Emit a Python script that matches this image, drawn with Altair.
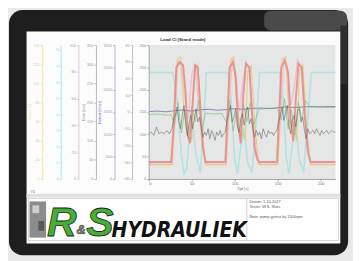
import altair as alt
import pandas as pd

# ---------------- data ----------------
x_ticks = [0, 50, 100, 150, 200]

red_t = [0, 26, 29, 32, 36, 40, 43, 45, 48, 51, 54, 57, 60, 63, 66, 89, 91, 94, 98, 101, 104, 107, 110,
         113, 117, 120, 123, 126, 128, 149, 151, 154, 158, 162, 165, 168, 171, 174, 178, 181, 185, 188, 217]
red_v = [38, 38, 120, 250, 262, 255, 190, 100, 80, 170, 255, 250, 160, 70, 38, 38, 120, 250, 262, 230, 120,
         80, 190, 258, 250, 150, 70, 45, 38, 38, 120, 250, 265, 240, 130, 85, 180, 258, 250, 150, 60, 38, 38]
red_ticks = [0, 50, 100, 150, 200, 250, 300]

pink_t = [0, 27, 30, 34, 38, 42, 46, 50, 54, 58, 62, 67, 90, 93, 97, 101, 105, 109, 113, 117, 121, 125, 129,
          150, 153, 157, 161, 165, 169, 173, 177, 181, 185, 189, 217]
pink_v = [11, 11, 40, 88, 84, 60, 45, 78, 86, 55, 25, 11, 11, 45, 90, 80, 50, 70, 88, 82, 45, 20, 11,
          11, 42, 90, 84, 55, 68, 89, 84, 50, 22, 11, 11]
pink_ticks = [0, 20, 40, 60, 80, 100]

cyan_t = [0, 28, 33, 38, 41, 44, 47, 51, 55, 60, 64, 67, 92, 96, 100, 103, 107, 111, 115, 120, 125, 129,
          152, 156, 160, 163, 167, 171, 175, 180, 185, 189, 217]
cyan_v = [6.6, 6.6, 5.0, 1.5, 0.3, 0.6, 2.5, 3.5, 1.5, 0.4, 3.5, 6.6, 6.6, 4.8, 1.2, 0.3, 2.0, 3.2, 1.0, 0.4,
          3.6, 6.6, 6.6, 5.0, 1.3, 0.3, 2.2, 3.4, 1.2, 0.4, 3.8, 6.6, 6.6]
cyan_ticks = [0, 1, 2, 3, 4, 5, 6, 7, 8]

yellow_t = [0, 27, 30, 33, 37, 41, 50, 53, 57, 62, 66, 90, 92, 95, 99, 103, 112, 115, 119, 124, 128,
            150, 152, 155, 159, 163, 172, 175, 179, 184, 188, 217]
yellow_v = [15, 15, 60, 125, 128, 70, 40, 110, 120, 50, 15, 15, 60, 125, 128, 70, 40, 112, 118, 50, 15,
            15, 60, 126, 128, 70, 40, 112, 120, 50, 15, 15]
yellow_ticks = [0, 20, 40, 60, 80, 100, 120, 140]

black_t = [0, 3, 6, 9, 12, 15, 18, 21, 24, 27, 29, 31, 33, 35, 37, 39, 41, 43, 45, 47, 49, 51, 53, 55, 57,
           59, 61, 63, 65, 67, 69, 71, 73, 75, 77, 79, 81, 83, 85, 87, 89, 91, 93, 95, 97, 99, 101, 103,
           105, 107, 109, 111, 113, 115, 117, 119, 121, 123, 125, 127, 129, 131, 133, 135, 137, 139, 141,
           143, 145, 147, 149, 151, 153, 155, 157, 159, 161, 163, 165, 167, 169, 171, 173, 175, 177, 179,
           181, 183, 185, 187, 189, 191, 193, 195, 197, 199, 201, 203, 205, 207, 209, 211, 213, 215, 217]
black_v = [-13, -12, -14, -9, -13, -12, -13, -11, -13, -10, -4, -2, 3, -6, -10, -2, 4, -8, -14, -6, -2,
           -10, -4, 2, -6, -3, -9, -15, -12, -14, -10, -16, -11, -13, -17, -12, -14, -11, -15, -13, -12,
           -5, -1, 4, -6, -3, 2, -9, -12, -4, -1, -8, 0, 3, -7, -4, -10, -15, -11, -14, -12, -16, -10,
           -13, -15, -11, -13, -12, -14, -12, -11, -6, -2, 3, -5, -1, 4, -8, -13, -5, -2, -9, 1, 2, -6,
           -3, -11, -16, -10, -13, -12, -11, -13, -10, -12, -14, -11, -13, -12, -11, -13, -12, -11, -12, -12]
black_ticks = [-40, -30, -20, -10, 0, 10, 20, 30, 40]

blue_t = [0, 10, 20, 30, 40, 50, 60, 70, 80, 90, 100, 110, 120, 130, 140, 150, 160, 170, 180, 190, 200, 210, 217]
blue_v = [1510, 1520, 1505, 1530, 1545, 1520, 1550, 1560, 1540, 1555, 1575, 1560, 1580, 1590, 1575, 1600,
          1615, 1600, 1615, 1620, 1610, 1625, 1620]
blue_ticks = [0, 500, 1000, 1500, 2000, 2500, 3000]

green_t = [0, 10, 20, 26, 30, 34, 38, 42, 46, 50, 54, 58, 62, 66, 75, 85, 90, 94, 98, 102, 106, 110, 114,
           118, 122, 128, 140, 150, 154, 158, 162, 166, 170, 174, 178, 182, 188, 200, 210, 217]
green_v = [168, 170, 167, 168, 140, 200, 120, 180, 105, 190, 150, 205, 130, 172, 170, 171, 150, 205, 125,
           175, 110, 195, 150, 200, 140, 182, 185, 184, 155, 210, 130, 180, 115, 200, 155, 205, 188, 190, 186, 188]
green_ticks = [0, 50, 100, 150, 200, 250, 300, 350]

# ---------------- helpers ----------------
FONT = "Liberation Sans"
one = alt.Data(values=[{"k": 0}])
xs = alt.Scale(domain=[0, 217], nice=False, zero=False)
xaxis = alt.Axis(values=x_ticks, title="Tijd [s]", zindex=1, grid=False, labelFontSize=4, labelFont=FONT,
                 titleFontSize=4, titleFont=FONT, titleFontWeight="normal", titlePadding=1, tickSize=2,
                 labelPadding=1, domainColor="#a0a0a0", tickColor="#a0a0a0", labelColor="#777777",
                 titleColor="#777777")


def series(t, v, color, width, domain, ticks, offset, axcol, labcol, title="", titlecol="#888888", opacity=1.0):
    df = pd.DataFrame({"t": t, "v": v})
    yaxis = alt.Axis(values=ticks, offset=offset, orient="left", zindex=1, grid=False, labelFontSize=4,
                     labelFont=FONT, tickSize=2, labelPadding=1, domainColor=axcol, tickColor=axcol,
                     labelColor=labcol, title=title, titleFontSize=4, titleFont=FONT,
                     titleFontWeight="normal", titlePadding=1, titleColor=titlecol, format="d")
    return alt.Chart(df).mark_line(color=color, strokeWidth=width, opacity=opacity).encode(
        x=alt.X("t:Q", scale=xs, axis=xaxis),
        y=alt.Y("v:Q", scale=alt.Scale(domain=domain, nice=False, zero=False), axis=yaxis),
    )


def box(x, x2, y, y2, **kw):
    return alt.Chart(one).mark_rect(**kw).encode(
        x=alt.value(x), x2=alt.value(x2), y=alt.value(y), y2=alt.value(y2))


def txt(s, x, y, size, color, **kw):
    return alt.Chart(one).mark_text(text=s, fontSize=size, color=color, **kw).encode(
        x=alt.value(x), y=alt.value(y))


# ---------------- decoration (view origin = plot area top-left) ----------------
frame = box(-143, 204, -36, 215, color="#1e1e1e", cornerRadius=14)
glare = box(118, 203, -35, -15, color="#4a4a4a", cornerRadius=7)
glare2 = box(196, 203, -20, 40, color="#2e2e2e")
screen = box(-125, 196, -14, 203, color="#fcfcfc")
plotbg = box(0, 191, 0, 137, color="#e5e6e6")
band = box(-125, 196, 152, 156, color="#e0e0e0")
infobox = box(-123, 194, 157, 200, fill="#ffffff", stroke="#c8c8c8", strokeWidth=0.8)
divider = box(100, 100.8, 157, 200, color="#c8c8c8")
qr = box(-122, -105, 160, 197, color="#8c8c8c")
qr2 = box(-119, -112, 164, 172, color="#cfcfcf")
qr3 = box(-113, -107, 180, 190, color="#5a5a5a")

logo_r = txt("R", -104, 195, 42, "#45b035", align="left", baseline="alphabetic", font=FONT,
             fontWeight="bold", fontStyle="italic", stroke="#222222", strokeWidth=0.8)
logo_amp = txt("&", -74, 193, 13, "#8a8a8a", align="left", baseline="alphabetic", font=FONT,
               fontWeight="bold", fontStyle="italic", stroke="#333333", strokeWidth=0.5)
logo_s = txt("S", -64, 195, 42, "#45b035", align="left", baseline="alphabetic", font=FONT,
             fontWeight="bold", fontStyle="italic", stroke="#222222", strokeWidth=0.8)
logo_h = txt("HYDRAULIEK", -38, 196, 21.5, "#111111", align="left", baseline="alphabetic",
             font="Liberation Sans Narrow, DejaVu Sans Condensed, Liberation Sans", fontWeight="bold",
             fontStyle="italic")

info1 = txt("Datum: 1-10-2017", 103, 161, 4, "#555555", align="left", baseline="middle", font=FONT)
info2 = txt("Tester: W.S. Slats", 103, 166, 4, "#555555", align="left", baseline="middle", font=FONT)
info3 = txt("Note: pomp getest bij 1500rpm", 103, 176, 4, "#555555", align="left", baseline="middle", font=FONT)
corner = txt("#1", -121, 150, 4, "#666666", align="left", baseline="middle", font=FONT)
title = txt("Load Cl (Stand mode)", 35, -3, 4.5, "#333333", align="center", baseline="bottom", font=FONT,
            fontWeight="bold")

# ---------------- series ----------------
s_yellow = series(yellow_t, yellow_v, "#e8c466", 1.1, [0, 140], yellow_ticks, 109, "#f0e2a8", "#e0d090",
                  title="Temp [°C]", titlecol="#e8d8a0", opacity=0.75)
s_cyan = series(cyan_t, cyan_v, "#a6e0e0", 1.6, [0, 8.3], cyan_ticks, 90, "#aee4ee", "#8fcfe0", opacity=0.8)
s_pink = series(pink_t, pink_v, "#f4bccb", 1.4, [0, 100], pink_ticks, 72, "#d8c8d8", "#b0a0b0", opacity=0.9)
s_green = series(green_t, green_v, "#7cc27c", 0.8, [0, 350], green_ticks, 54, "#b8b8b8", "#999999",
                 title="Druk [bar]", titlecol="#888888", opacity=0.85)
s_blue = series(blue_t, blue_v, "#7482aa", 0.9, [0, 3000], blue_ticks, 35, "#b0b4cc", "#9a9aaa",
                title="Debiet [l/min]", titlecol="#4a5fd0")
s_black = series(black_t, black_v, "#555555", 0.6, [-40, 40], black_ticks, 17, "#bdbdbd", "#999999",
                 opacity=0.85)
s_red = series(red_t, red_v, "#e68686", 1.9, [0, 300], red_ticks, 0, "#a8a8a8", "#888888", opacity=0.85)

chart = alt.layer(
    frame, glare, glare2, screen, plotbg, band, infobox, divider, qr, qr2, qr3,
    s_cyan, s_pink, s_yellow, s_green, s_blue, s_red, s_black,
    logo_r, logo_amp, logo_s, logo_h, info1, info2, info3, corner, title,
).resolve_scale(y="independent").properties(
    width=191, height=137,
    padding={"left": 144, "top": 35, "right": 18, "bottom": 81},
    autosize=alt.AutoSizeParams(type="none"),
).configure(background="#e9e9e9").configure_view(stroke=None)

chart.save("out.html", embed_options={"renderer": "svg", "actions": False})
